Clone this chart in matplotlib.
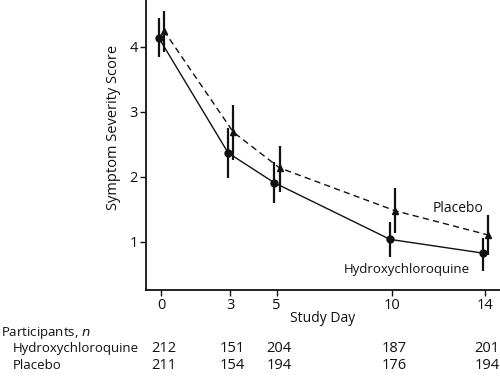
import matplotlib
matplotlib.use('Agg')
import matplotlib.pyplot as plt
import matplotlib.transforms as mtransforms
import numpy as np

plt.rcParams['font.family'] = ['Open Sans', 'DejaVu Sans']

# study days and mean scores
days = [0, 3, 5, 10, 14]
hcq_mean = [4.14, 2.37, 1.91, 1.04, 0.83]
hcq_low = [3.85, 1.98, 1.60, 0.77, 0.55]
hcq_high = [4.45, 2.75, 2.23, 1.31, 1.06]
pbo_mean = [4.25, 2.69, 2.14, 1.48, 1.11]
pbo_low = [3.92, 2.26, 1.77, 1.14, 0.80]
pbo_high = [4.55, 3.11, 2.48, 1.83, 1.42]

hcq_n = [212, 151, 204, 187, 201]
pbo_n = [211, 154, 194, 176, 194]

col = '#111111'
fs = 9.5
fs_num = 10.5

fig = plt.figure(figsize=(5, 3.76), dpi=100)
ax = fig.add_axes([0.292, 0.2287, 0.708, 0.7713])

x_h = np.array(days) - 0.1
x_p = np.array(days) + 0.12

# hydroxychloroquine: solid, circles
ax.plot(x_h, hcq_mean, color=col, lw=1.0, zorder=3)
ax.vlines(x_h, hcq_low, hcq_high, color=col, lw=1.6, zorder=3)
ax.plot(x_h, hcq_mean, 'o', color=col, ms=5, zorder=4)

# placebo: dashed, triangles
ax.plot(x_p, pbo_mean, color=col, lw=1.0, dashes=(4.5, 3), zorder=3)
ax.vlines(x_p, pbo_low, pbo_high, color=col, lw=1.6, zorder=3)
ax.plot(x_p, pbo_mean, '^', color=col, ms=4.5, zorder=4)

ax.text(11.75, 1.52, 'Placebo', fontsize=fs + 0.5, color=col, va='center', ha='left')
ax.text(7.9, 0.57, 'Hydroxychloroquine', fontsize=fs, color=col, va='center', ha='left')

ax.set_xlim(-0.65, 14.65)
ax.set_ylim(0.262, 4.72)
ax.set_xticks(days)
ax.set_yticks([1, 2, 3, 4])
ax.tick_params(direction='out', length=4, width=1, colors=col, labelsize=fs_num, pad=2)
for s in ['top', 'right']:
    ax.spines[s].set_visible(False)
for s in ['left', 'bottom']:
    ax.spines[s].set_linewidth(1.3)
    ax.spines[s].set_color(col)

ax.set_xlabel('Study Day', fontsize=fs + 0.5, color=col, labelpad=-2)
ax.set_ylabel('Symptom Severity Score', fontsize=fs + 1, color=col)
ax.yaxis.set_label_coords(-0.07, 0.562)

# participants table under the axis
trans = mtransforms.blended_transform_factory(ax.transData, fig.transFigure)
fig.text(0.002, 0.114, 'Participants, $\\it{n}$', fontsize=fs, color=col, va='center')
fig.text(0.026, 0.072, 'Hydroxychloroquine', fontsize=fs, color=col, va='center')
fig.text(0.026, 0.027, 'Placebo', fontsize=fs, color=col, va='center')
for d, a, b in zip(days, hcq_n, pbo_n):
    ax.text(d + 0.1, 0.072, str(a), transform=trans, fontsize=fs_num, color=col,
            ha='center', va='center', clip_on=False)
    ax.text(d + 0.1, 0.027, str(b), transform=trans, fontsize=fs_num, color=col,
            ha='center', va='center', clip_on=False)

fig.savefig('out.png', dpi=100)
